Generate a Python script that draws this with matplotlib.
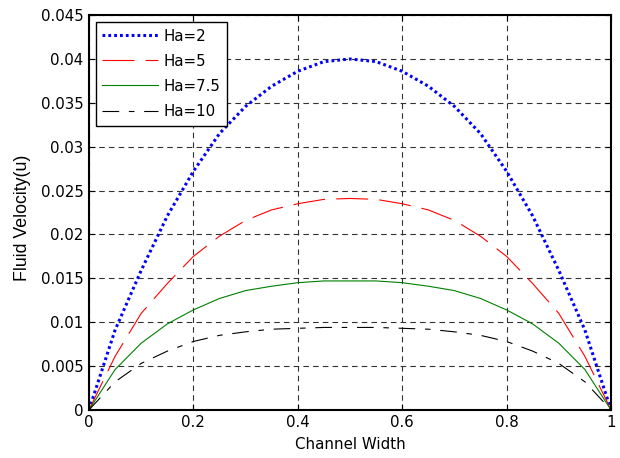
import numpy as np
from matplotlib import pyplot as plt
from matplotlib.ticker import FormatStrFormatter

plt.rcParams.update({
    "font.family": ["DejaVu Sans"],
    "font.size": 10.8,
    "lines.scale_dashes": False,
})

# channel width positions
x = [0.0, 0.05, 0.1, 0.15, 0.2, 0.25, 0.3, 0.35, 0.4, 0.45, 0.5,
     0.55, 0.6, 0.65, 0.7, 0.75, 0.8, 0.85, 0.9, 0.95, 1.0]

# fluid velocity
u_ha2 = [0, 0.0091, 0.0159, 0.0221, 0.0272, 0.0315, 0.0346, 0.0369, 0.0386, 0.0397, 0.0400,
         0.0397, 0.0386, 0.0369, 0.0346, 0.0315, 0.0272, 0.0221, 0.0159, 0.0091, 0]
u_ha5 = [0, 0.0061, 0.0110, 0.0144, 0.0175, 0.0198, 0.0216, 0.0228, 0.0235, 0.0240, 0.0241,
         0.0240, 0.0235, 0.0228, 0.0216, 0.0198, 0.0175, 0.0144, 0.0110, 0.0061, 0]
u_ha75 = [0, 0.0046, 0.0076, 0.0098, 0.0114, 0.0127, 0.0136, 0.0141, 0.0145, 0.0147, 0.0147,
          0.0147, 0.0145, 0.0141, 0.0136, 0.0127, 0.0114, 0.0098, 0.0076, 0.0046, 0]
u_ha10 = [0, 0.0032, 0.0053, 0.0067, 0.0078, 0.0085, 0.0089, 0.0092, 0.0093, 0.0094, 0.0094,
          0.0094, 0.0093, 0.0092, 0.0089, 0.0085, 0.0078, 0.0067, 0.0053, 0.0032, 0]

fig = plt.figure(figsize=(6.2, 4.58), dpi=100)
ax = fig.add_axes([0.1435, 0.105, 0.8420, 0.862])

ax.plot(x, u_ha2, color="blue", linewidth=2.2, linestyle=(0, (2.0, 2.2)), label="Ha=2")
ax.plot(x, u_ha5, color="red", linewidth=0.8, linestyle=(0, (23, 8)), label="Ha=5")
ax.plot(x, u_ha75, color="green", linewidth=0.8, linestyle="-", label="Ha=7.5")
ax.plot(x, u_ha10, color="black", linewidth=0.8, linestyle=(0, (12, 7, 4, 7)), label="Ha=10")

ax.set_xlim(0, 1)
ax.set_ylim(0, 0.045)
ax.set_xticks([0, 0.2, 0.4, 0.6, 0.8, 1])
ax.set_yticks(np.arange(0, 0.0451, 0.005))
ax.xaxis.set_major_formatter(FormatStrFormatter("%g"))
ax.yaxis.set_major_formatter(FormatStrFormatter("%g"))
ax.tick_params(direction="in", top=True, right=True, length=4, width=0.8, pad=4)
ax.grid(True, color="0.2", linewidth=0.8, linestyle=(0, (4, 3)))
for s in ax.spines.values():
    s.set_linewidth(1.5)

ax.set_xlabel("Channel Width")
ax.xaxis.set_label_coords(0.5, -0.068)
ax.set_ylabel("Fluid Velocity(u)", family="Liberation Sans", fontsize=12.8)
ax.yaxis.set_label_coords(-0.111, 0.486)

leg = ax.legend(loc="upper left", handlelength=3.67, handletextpad=0.4,
                labelspacing=0.67, borderaxespad=0.45, borderpad=0.45,
                fancybox=False, framealpha=1, edgecolor="black")
leg.get_frame().set_linewidth(1.0)

fig.savefig("out.png", dpi=100)
